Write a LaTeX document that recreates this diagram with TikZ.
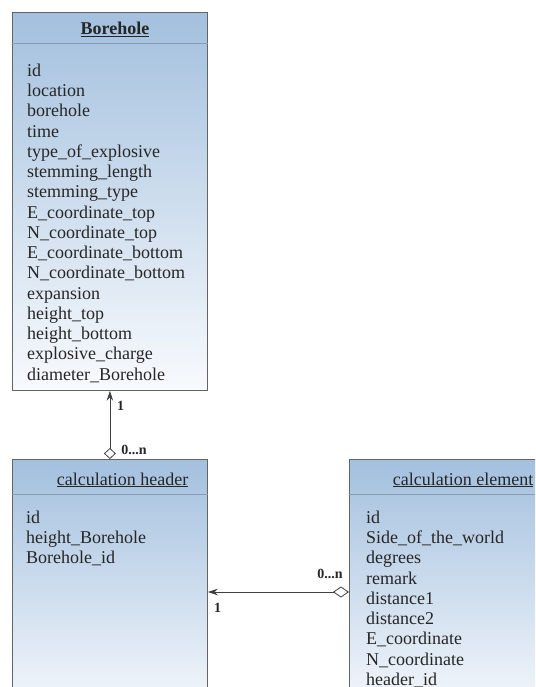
\documentclass[tikz,border=0pt]{standalone}
\usepackage{fontspec}
\setmainfont{Liberation Serif}
\usetikzlibrary{arrows.meta,positioning}

\definecolor{umltop}{RGB}{163,192,222}
\definecolor{umlbottom}{RGB}{248,250,253}
\definecolor{umlframe}{RGB}{100,100,100}
\definecolor{umlrule}{RGB}{135,155,178}

\begin{document}
\begin{tikzpicture}[
  x=1pt,y=-1pt,
  >=Stealth,
  classbox/.style={draw=umlframe,line width=.8pt,top color=umltop,
    bottom color=umlbottom,anchor=north west,inner sep=0pt,minimum width=195pt},
  divider/.style={draw=umlrule,line width=.8pt},
  classtitle/.style={anchor=base,inner sep=0pt,text=black!85,
    font=\fontsize{18}{20}\selectfont},
  attrs/.style={anchor=north west,align=left,inner sep=0pt,text=black!85,
    font=\fontsize{18}{20.25}\selectfont},
  mult/.style={inner sep=0pt,text=black!85,font=\fontsize{14}{14}\selectfont\bfseries},
  assoc/.style 2 args={draw=black!75,line width=.8pt,
    {Diamond[fill=white,length=#1,width=#2]}-{Stealth[length=10pt,width=6.5pt]}}]

\useasboundingbox (0,0) rectangle (535,687);
\clip (0,0) rectangle (535,687);

\node[classbox,minimum height=378pt] (borehole) at (12,12) {};
\node[classbox,minimum height=262pt] (header) at (12,459) {};
\node[classbox,minimum height=262pt] (element) at (349,459) {};

\draw[divider] ([yshift=-31pt]borehole.north west) -- ([yshift=-31pt]borehole.north east);
\draw[divider] ([yshift=-35pt]header.north west) -- ([yshift=-35pt]header.north east);
\draw[divider] ([yshift=-35pt]element.north west) -- ([yshift=-35pt]element.north east);

\node[classtitle] (boreholename) at (115,35) {\textbf{\underline{Borehole}}};
\node[classtitle] (headername) at (122.5,485) {\underline{calculation header}};
\node[classtitle] (elementname) at (463,485) {\underline{calculation element}};

\node[attrs] (boreholeattrs) at (27,63.7)
  {id\\location\\borehole\\time\\type\_of\_explosive\\stemming\_length\\
   stemming\_type\\E\_coordinate\_top\\N\_coordinate\_top\\E\_coordinate\_bottom\\
   N\_coordinate\_bottom\\expansion\\height\_top\\height\_bottom\\
   explosive\_charge\\diameter\_Borehole};
\node[attrs] (headerattrs) at (26,510.7)
  {id\\height\_Borehole\\Borehole\_id};
\node[attrs] (elementattrs) at (366,510.7)
  {id\\Side\_of\_the\_world\\degrees\\remark\\distance1\\distance2\\
   E\_coordinate\\N\_coordinate\\header\_id};

\coordinate (linky) at (0,592);

\draw[assoc={11pt}{12pt}] (header.north) -- (header.north |- borehole.south);
\draw[assoc={16pt}{11pt}] (element.west |- linky) -- (header.east |- linky);

\node[mult] (boreholeone) at (120.5,406) {1};
\node[mult] (headermany) at (134,450) {0...n};
\node[mult] (headerone) at (217.5,608) {1};
\node[mult] (elementmany) at (330,574) {0...n};
\end{tikzpicture}
\end{document}
